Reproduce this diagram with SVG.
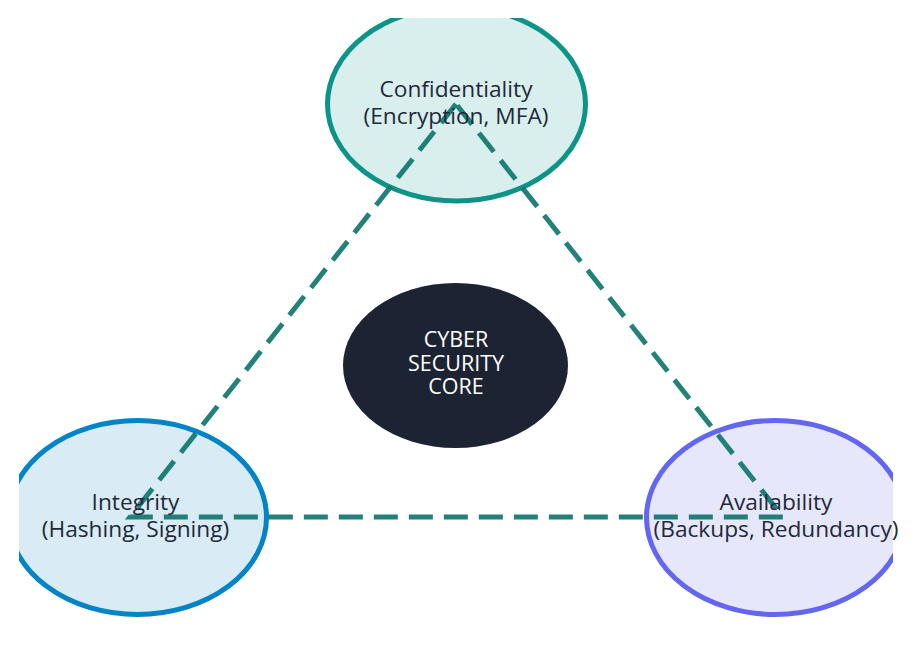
<svg xmlns="http://www.w3.org/2000/svg" width="918" height="645" viewBox="0 0 918 645">
<style>
.lbl{font-family:"Open Sans","Liberation Sans",sans-serif;font-size:22.7px;fill:#1e293b;text-anchor:middle}
.core{font-family:"Open Sans","Liberation Sans",sans-serif;font-size:21.5px;fill:#ffffff;text-anchor:middle}
.edge{fill:none;stroke:#0f766e;stroke-width:5;stroke-dasharray:24 11;opacity:0.92}
</style>
<defs>
<clipPath id="clip"><rect x="19" y="18" width="874" height="627"/></clipPath>
</defs>
<rect width="918" height="645" fill="#ffffff"/>
<g clip-path="url(#clip)">
<g id="node-confidentiality-shape"><ellipse cx="456.5" cy="104" rx="129" ry="97" fill="#d9efed" stroke="#0d9488" stroke-width="5"/></g>
<g id="node-integrity-shape"><ellipse cx="137.5" cy="517.5" rx="129" ry="97" fill="#d9ebf5" stroke="#0284c7" stroke-width="5"/></g>
<g id="node-availability-shape"><ellipse cx="775.5" cy="517.5" rx="129" ry="97" fill="#e6e7fb" stroke="#6366f1" stroke-width="5"/></g>
<g id="node-core"><ellipse cx="455.5" cy="365.5" rx="112.5" ry="82.5" fill="#1c2333"/>
<text class="core" x="456" y="347">CYBER</text>
<text class="core" x="456" y="370.5">SECURITY</text>
<text class="core" x="456" y="394">CORE</text></g>
</g>
<g id="connectors">
<path class="edge" d="M456,104 L130,517 L783,517 Z"/>
</g>
<g id="node-confidentiality">
<text class="lbl" x="456" y="97">Confidentiality</text>
<text class="lbl" x="456" y="124">(Encryption, MFA)</text>
</g>
<g id="node-integrity">
<text class="lbl" x="135.5" y="510">Integrity</text>
<text class="lbl" x="135.5" y="537">(Hashing, Signing)</text>
</g>
<g id="node-availability">
<text class="lbl" x="776" y="510">Availability</text>
<text class="lbl" x="776" y="537">(Backups, Redundancy)</text>
</g>
</svg>
